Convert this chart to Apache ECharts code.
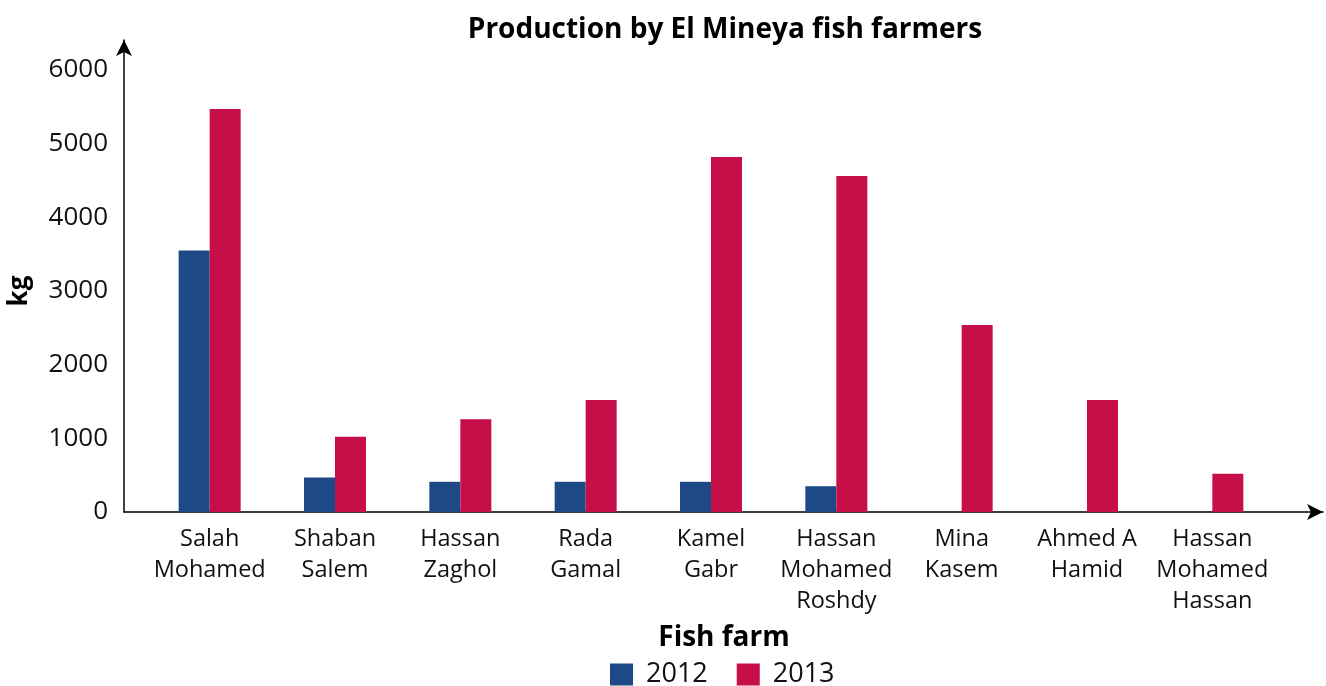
<!DOCTYPE html>
<html>
<head>
<meta charset="utf-8">
<script src="https://cdn.jsdelivr.net/npm/echarts@6/dist/echarts.min.js"></script>
<style>
  html, body { margin: 0; padding: 0; background: #fff; }
  #chart { width: 1326px; height: 686px; }
</style>
</head>
<body>
<div id="chart"></div>
<script>
// farms along the x axis
var farms = ['Salah\nMohamed', 'Shaban\nSalem', 'Hassan\nZaghol', 'Rada\nGamal', 'Kamel\nGabr',
    'Hassan\nMohamed\nRoshdy', 'Mina\nKasem', 'Ahmed A\nHamid', 'Hassan\nMohamed\nHassan'];
// production in kg
var prod2012 = [3550, 470, 410, 410, 410, 350, null, null, null];
var prod2013 = [5470, 1020, 1260, 1520, 4820, 4560, 2540, 1520, 520];
var seriesNames = ['2012', '2013'];
var yTicks = [0, 6000, 1000]; // min, max, interval

var font = 'Open Sans';
var chart = echarts.init(document.getElementById('chart'));

var option = {
    animation: false,
    textStyle: { fontFamily: font },
    color: ['#1d4a86', '#c60e48'],
    title: {
        text: 'Production by El Mineya fish farmers',
        left: 720,
        textAlign: 'center',
        top: 11,
        textStyle: { fontFamily: font, fontWeight: 'bold', fontSize: 28, color: '#000' }
    },
    legend: {
        data: seriesNames,
        top: 656,
        left: 605,
        icon: 'rect',
        itemWidth: 23,
        itemHeight: 22,
        itemGap: 29,
        textStyle: { fontSize: 27, color: '#111', fontFamily: font, padding: [0, 0, 0, 8] }
    },
    grid: [
        // bars
        { left: 147, right: 51, top: 70, bottom: 174, outerBoundsMode: 'none' },
        // arrowed axis lines
        { left: 124, right: 3, top: 40, bottom: 174, outerBoundsMode: 'none' }
    ],
    xAxis: [
        {
            type: 'category',
            gridIndex: 0,
            data: farms,
            axisLine: { show: false },
            axisTick: { show: false },
            axisLabel: { fontSize: 23.5, lineHeight: 31, color: '#111', margin: 12, interval: 0 },
            name: 'Fish farm',
            nameLocation: 'middle',
            nameGap: 112,
            nameTextStyle: { fontSize: 28, fontWeight: 'bold', color: '#000', padding: [0, 0, 0, 26] }
        },
        {
            type: 'value',
            gridIndex: 1,
            min: 0, max: 1,
            axisLine: { show: true, symbol: ['none', 'arrow'], symbolSize: [12, 16], lineStyle: { color: '#000', width: 1.5 } },
            axisTick: { show: false },
            axisLabel: { show: false },
            splitLine: { show: false }
        }
    ],
    yAxis: [
        {
            type: 'value',
            gridIndex: 0,
            min: yTicks[0],
            max: yTicks[1],
            interval: yTicks[2],
            axisLine: { show: false },
            axisTick: { show: false },
            splitLine: { show: false },
            axisLabel: { fontSize: 26, color: '#111', margin: 39, formatter: function (v) { return String(v); } },
            name: 'kg',
            nameLocation: 'middle',
            nameRotate: 90,
            nameGap: 114,
            nameTextStyle: { fontSize: 26, fontWeight: 'bold', color: '#000' }
        },
        {
            type: 'value',
            gridIndex: 1,
            min: 0, max: 1,
            axisLine: { show: true, symbol: ['none', 'arrow'], symbolSize: [12, 16], lineStyle: { color: '#000', width: 1.5 } },
            axisTick: { show: false },
            axisLabel: { show: false },
            splitLine: { show: false }
        }
    ],
    series: [
        { name: seriesNames[0], type: 'bar', xAxisIndex: 0, yAxisIndex: 0, data: prod2012, barWidth: 31, barGap: '0%' },
        { name: seriesNames[1], type: 'bar', xAxisIndex: 0, yAxisIndex: 0, data: prod2013, barWidth: 31, barGap: '0%' }
    ]
};
chart.setOption(option);
</script>
</body>
</html>
